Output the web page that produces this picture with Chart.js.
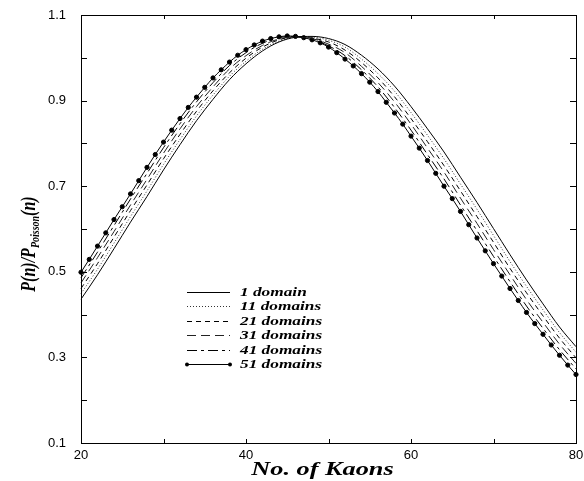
<!DOCTYPE html>
<html>
<head>
<meta charset="utf-8">
<script src="https://cdn.jsdelivr.net/npm/chart.js@4.4.1/dist/chart.umd.min.js"></script>
<style>
  body { margin: 0; background: #fff; }
  #wrap { width: 584px; height: 481px; }
</style>
</head>
<body>
<div id="wrap"><canvas id="kaons" width="584" height="481"></canvas></div>
<script>
// number of kaons: every integer for the 51-domain run, every second one for the rest
const kaonsAll = [20,21,22,23,24,25,26,27,28,29,30,31,32,33,34,35,36,37,38,39,40,
  41,42,43,44,45,46,47,48,49,50,51,52,53,54,55,56,57,58,59,60,
  61,62,63,64,65,66,67,68,69,70,71,72,73,74,75,76,77,78,79,80];
const kaonsEven = [20,22,24,26,28,30,32,34,36,38,40,42,44,46,48,50,
  52,54,56,58,60,62,64,66,68,70,72,74,76,78,80];

// P(n)/P_Poisson(n)
const ratio1 = [0.436,0.493,0.554,0.616,0.676,0.738,0.797,0.853,0.903,0.949,0.986,1.016,1.037,1.048,1.050,1.045,
  1.031,1.006,0.974,0.934,0.886,0.834,0.780,0.721,0.662,0.601,0.540,0.481,0.425,0.371,0.325];
const ratio11 = [0.449,0.506,0.567,0.629,0.689,0.751,0.809,0.864,0.913,0.957,0.992,1.020,1.039,1.048,1.048,1.041,
  1.025,0.997,0.963,0.922,0.872,0.819,0.764,0.705,0.646,0.585,0.524,0.466,0.411,0.358,0.312];
const ratio21 = [0.461,0.519,0.581,0.643,0.703,0.764,0.821,0.875,0.923,0.965,0.999,1.025,1.042,1.049,1.046,1.037,
  1.018,0.989,0.953,0.909,0.858,0.804,0.748,0.689,0.629,0.569,0.508,0.451,0.397,0.345,0.299];
const ratio31 = [0.474,0.533,0.594,0.656,0.716,0.777,0.834,0.886,0.932,0.974,1.005,1.029,1.044,1.049,1.045,1.032,
  1.012,0.980,0.942,0.897,0.845,0.789,0.733,0.672,0.613,0.552,0.493,0.435,0.382,0.331,0.286];
const ratio41 = [0.486,0.546,0.608,0.670,0.730,0.790,0.846,0.897,0.942,0.982,1.012,1.034,1.047,1.050,1.043,1.028,
  1.005,0.972,0.932,0.884,0.831,0.774,0.717,0.656,0.596,0.536,0.477,0.420,0.368,0.318,0.273];
const ratio51 = [0.499,0.529,0.560,0.591,0.622,0.652,0.682,0.713,0.744,0.774,0.803,0.831,0.858,0.884,0.908,0.931,
  0.953,0.972,0.990,1.006,1.019,1.030,1.039,1.045,1.049,1.051,1.050,1.047,1.042,1.035,1.025,
  1.012,0.997,0.981,0.963,0.943,0.921,0.896,0.871,0.845,0.817,0.789,0.760,0.730,0.700,0.671,
  0.641,0.610,0.579,0.549,0.519,0.490,0.461,0.433,0.405,0.379,0.354,0.329,0.305,0.282,0.260];

const seriesLabels = ['1 domain','11 domains','21 domains','31 domains','41 domains','51 domains'];

const xTicks = [20,40,60,80];
const xMinor = [30,50,70];
const yTicks = [0.1,0.3,0.5,0.7,0.9,1.1];
const yMinor = [0.2,0.4,0.6,0.8,1.0];

const pts = (xs, ys) => xs.map((x, i) => ({ x: x, y: ys[i] }));

function line(label, xs, ys, dash, color) {
  return {
    label: label,
    data: pts(xs, ys),
    borderColor: color || '#000',
    borderWidth: 1,
    borderDash: dash,
    pointRadius: 0,
    cubicInterpolationMode: 'monotone',
    clip: false
  };
}

const datasets = [
  line(seriesLabels[0], kaonsEven, ratio1, []),
  line(seriesLabels[1], kaonsEven, ratio11, [1, 2], '#333'),
  line(seriesLabels[2], kaonsEven, ratio21, [5, 4]),
  line(seriesLabels[3], kaonsEven, ratio31, [9, 5], '#222'),
  line(seriesLabels[4], kaonsEven, ratio41, [10, 4, 3, 4]),
  Object.assign(line(seriesLabels[5], kaonsAll, ratio51, []), {
    pointRadius: 2.1,
    pointStyle: 'circle',
    pointBackgroundColor: '#000',
    pointBorderColor: '#000',
    pointBorderWidth: 1
  })
];

const serif = '"Liberation Serif", "Times New Roman", serif';

// box around the plot with short inward ticks on all four sides
const frameTicks = {
  id: 'frameTicks',
  afterDatasetsDraw(chart) {
    const { ctx, chartArea: a, scales: { x, y } } = chart;
    ctx.save();
    ctx.strokeStyle = '#000';
    ctx.lineWidth = 1;
    ctx.strokeRect(a.left + 0.5, a.top + 0.5, a.right - a.left, a.bottom - a.top);
    ctx.beginPath();
    xTicks.concat(xMinor).forEach(v => {
      const px = Math.round(x.getPixelForValue(v)) + 0.5;
      ctx.moveTo(px, a.bottom); ctx.lineTo(px, a.bottom - 4);
      ctx.moveTo(px, a.top); ctx.lineTo(px, a.top + 4);
    });
    yTicks.concat(yMinor).forEach(v => {
      const py = Math.round(y.getPixelForValue(v)) + 0.5;
      ctx.moveTo(a.left, py); ctx.lineTo(a.left + 6, py);
      ctx.moveTo(a.right, py); ctx.lineTo(a.right - 6, py);
    });
    ctx.stroke();
    ctx.restore();
  }
};

// axis titles (wide bold italic serif, the y one with a subscript) and the line-style key
const labelsAndKey = {
  id: 'labelsAndKey',
  afterDraw(chart) {
    const { ctx, chartArea: a } = chart;

    ctx.save();
    ctx.fillStyle = '#000';
    ctx.textBaseline = 'alphabetic';
    const big = 'bold italic 16px ' + serif;
    const small = 'bold italic 10px ' + serif;
    const parts = [['P(n)/P', big, 0], ['Poisson', small, 3], ['(n)', big, 0]];
    let w = 0;
    parts.forEach(p => { ctx.font = p[1]; w += ctx.measureText(p[0]).width; });
    ctx.translate(35, a.top + 229);
    ctx.rotate(-Math.PI / 2);
    ctx.scale(1, 1.3);
    let cx = -w / 2;
    parts.forEach(p => {
      ctx.font = p[1];
      ctx.fillText(p[0], cx, p[2]);
      cx += ctx.measureText(p[0]).width;
    });
    ctx.restore();

    ctx.save();
    ctx.fillStyle = '#000';
    ctx.font = 'bold italic 18px ' + serif;
    ctx.textAlign = 'center';
    ctx.textBaseline = 'alphabetic';
    ctx.translate((a.left + a.right) / 2 - 6, a.bottom + 32);
    ctx.scale(1.46, 1);
    ctx.fillText('No. of Kaons', 0, 0);
    ctx.restore();

    ctx.save();
    const x0 = a.left + 106, x1 = a.left + 149, tx = a.left + 159;
    ctx.font = 'bold italic 13px ' + serif;
    ctx.textBaseline = 'middle';
    ctx.fillStyle = '#000';
    chart.data.datasets.forEach((ds, i) => {
      const yy = Math.round(a.top + 277 + i * 14.4) + 0.5;
      ctx.strokeStyle = ds.borderColor;
      ctx.lineWidth = 1;
      ctx.setLineDash(ds.borderDash || []);
      ctx.beginPath();
      ctx.moveTo(x0, yy); ctx.lineTo(x1, yy);
      ctx.stroke();
      ctx.setLineDash([]);
      if (ds.pointRadius > 0) {
        [x0, x1].forEach(px => {
          ctx.beginPath();
          ctx.arc(px, yy, 2, 0, Math.PI * 2);
          ctx.fill();
        });
      }
      ctx.save();
      ctx.translate(tx, yy);
      ctx.scale(1.33, 1);
      ctx.fillText(ds.label, 0, 0);
      ctx.restore();
    });
    ctx.restore();
  }
};

new Chart(document.getElementById('kaons'), {
  type: 'line',
  data: { datasets: datasets },
  plugins: [frameTicks, labelsAndKey],
  options: {
    responsive: false,
    animation: false,
    layout: { padding: { top: 15, right: 8, left: 0, bottom: 0 } },
    plugins: { legend: { display: false }, tooltip: { enabled: false } },
    scales: {
      x: {
        type: 'linear',
        min: 20,
        max: 80,
        afterBuildTicks: s => { s.ticks = xTicks.map(v => ({ value: v })); },
        afterFit: s => { s.height = 38; s.paddingLeft = 0; s.paddingRight = 0; },
        grid: { display: false, drawTicks: false },
        border: { display: false },
        ticks: {
          padding: 5,
          maxRotation: 0,
          color: '#000',
          font: { family: '"Liberation Sans", Arial, sans-serif', size: 13 }
        }
      },
      y: {
        type: 'linear',
        min: 0.1,
        max: 1.1,
        afterBuildTicks: s => { s.ticks = yTicks.map(v => ({ value: v })); },
        afterFit: s => { s.width = 81; s.paddingTop = 0; s.paddingBottom = 0; },
        grid: { display: false, drawTicks: false },
        border: { display: false },
        ticks: {
          padding: 15,
          color: '#000',
          callback: v => v.toFixed(1),
          font: { family: '"Liberation Sans", Arial, sans-serif', size: 13 }
        }
      }
    }
  }
});
</script>
</body>
</html>
